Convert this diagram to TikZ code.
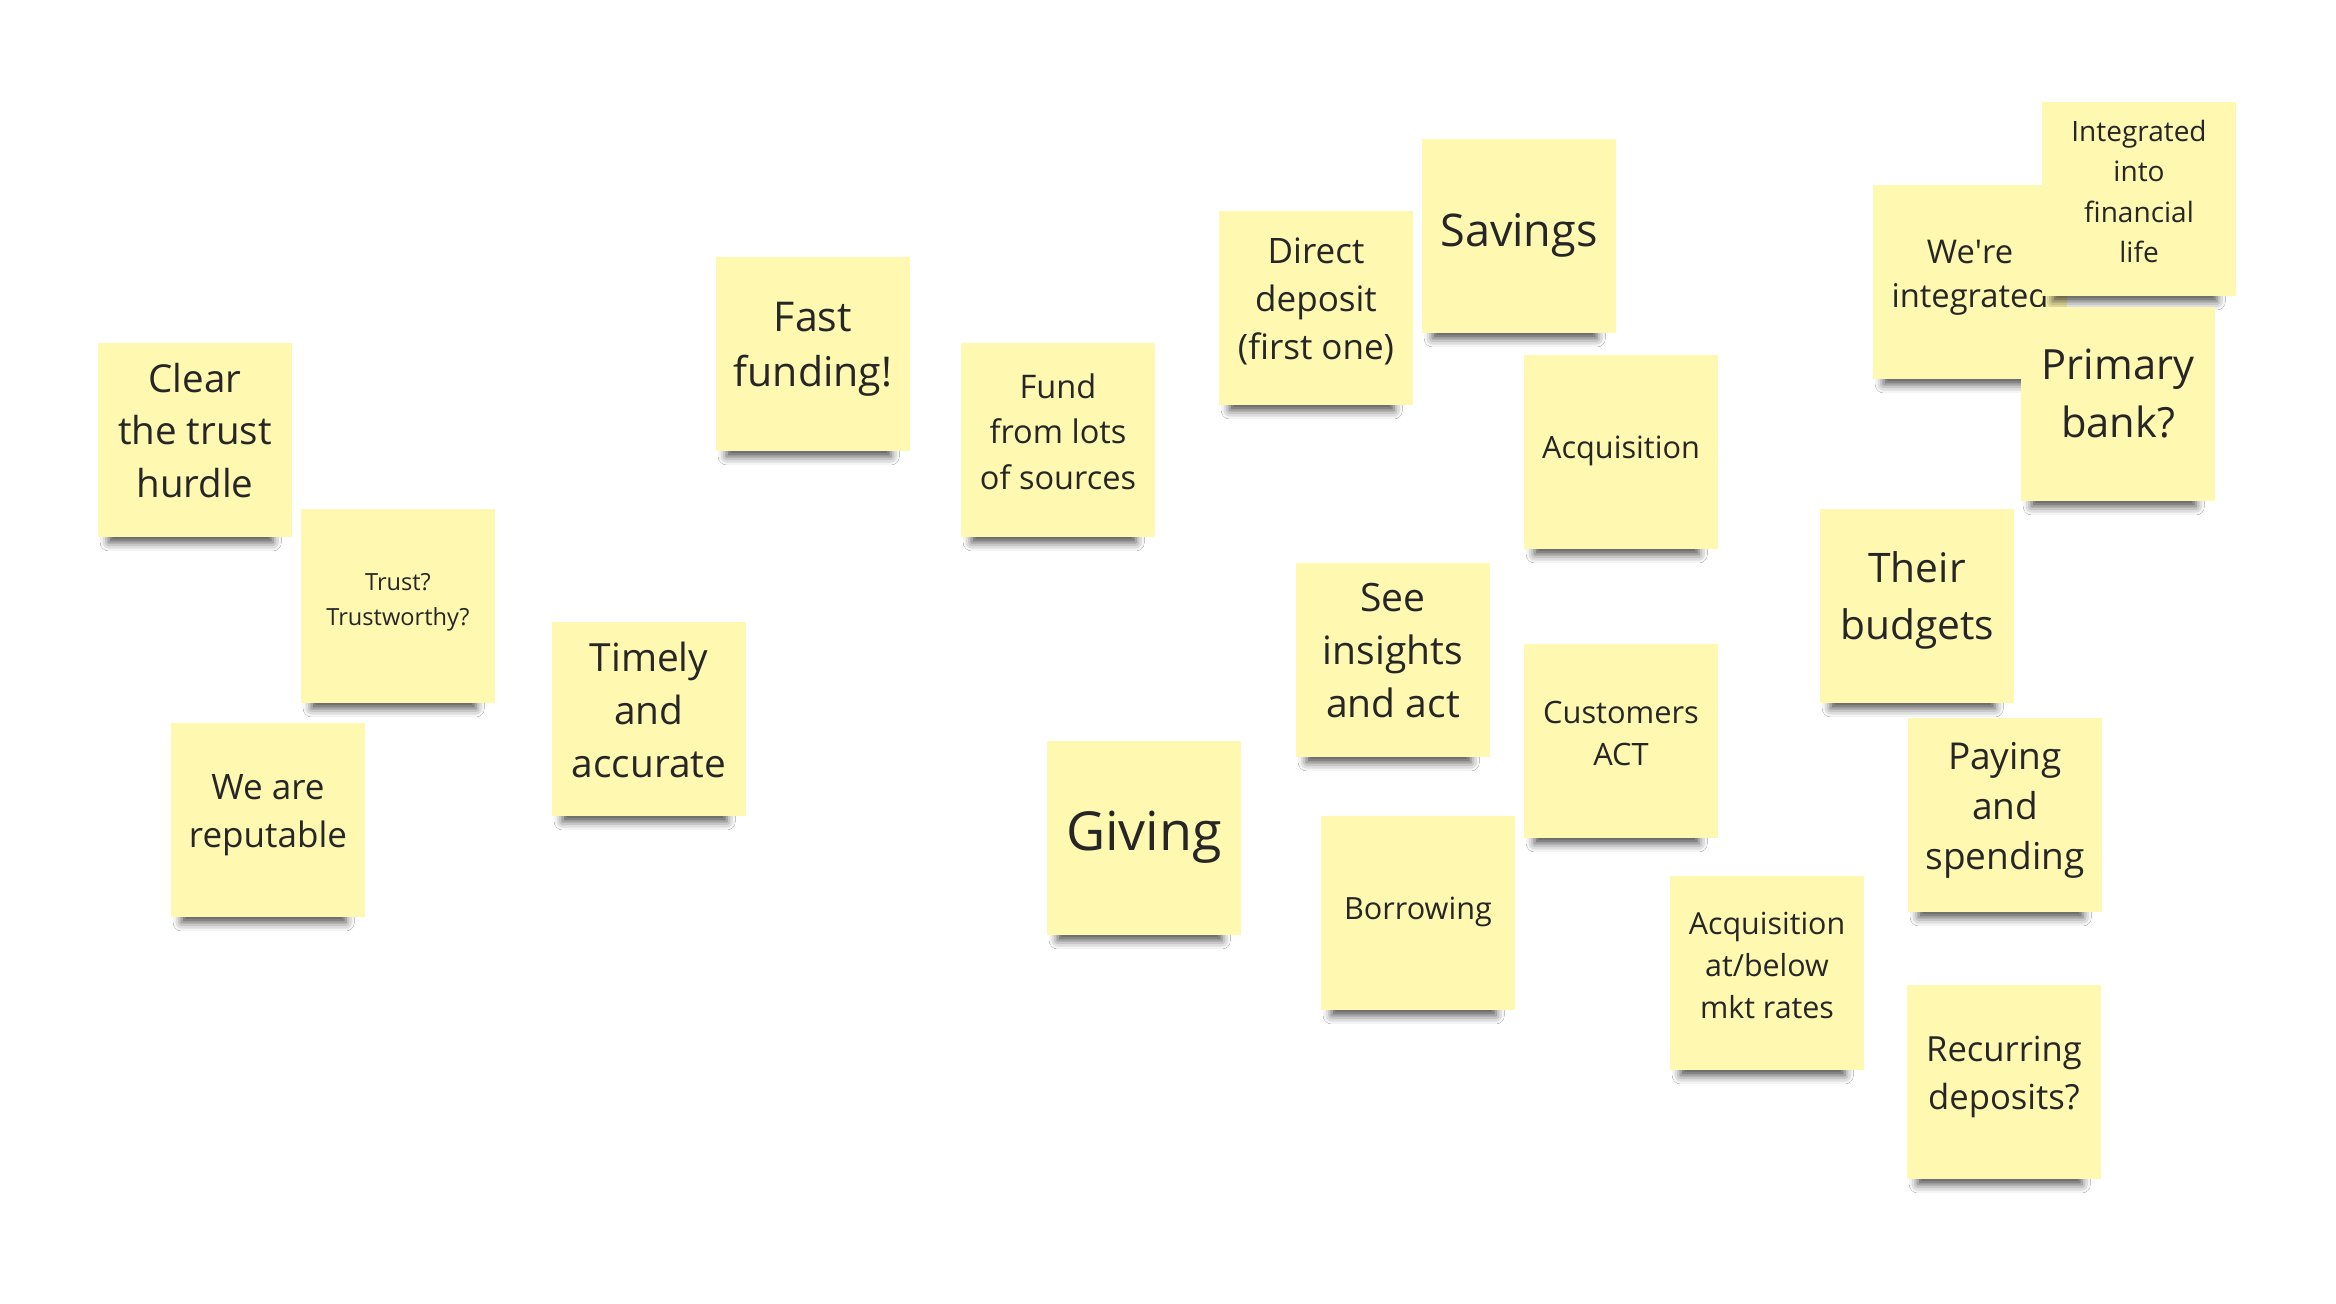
\documentclass[tikz,border=0pt]{standalone}
\usepackage{fontspec}
\setmainfont{Open Sans}
\usetikzlibrary{shadows.blur}
\definecolor{stickyyellow}{HTML}{FFF8B1}
\definecolor{inkgray}{HTML}{262626}

\begin{document}
\begin{tikzpicture}[x=0.01cm, y=-0.01cm,
  note/.style={fill=stickyyellow, minimum size=1.93cm, inner sep=0pt, align=center, text=inkgray,
    execute at begin node=\strut,
    execute at end node={\rule[-\dimexpr0.3\baselineskip+0.035cm\relax]{0pt}{0pt}},
    blur shadow={shadow xshift=-0.05cm, shadow yshift=-0.24cm, shadow scale=0.85,
                 shadow blur radius=0.1cm, shadow opacity=70}},
  fs/.style 2 args={font=\fontsize{#1pt}{#2pt}\selectfont}]

\fill [white] (0,0) rectangle (2336,1304);

% trust column
\node [note, fs={10.95}{14.94}] (clear) at (195,440) {Clear\\the trust\\hurdle};
\node [note, fs={6.71}{9.96}] (trust) at (398,606) {Trust?\\Trustworthy?};
\node [note, fs={9.96}{13.66}] (reputable) at (268,820) {We are\\reputable};
\node [note, fs={11.04}{15.08}] (timely) at (649,719) {Timely\\and\\accurate};

% funding
\node [note, fs={11.67}{15.65}] (fast) at (813,354) {Fast\\funding!};
\node [note, fs={9.25}{13.0}] (lots) at (1058,440) {Fund\\from lots\\of sources};
\node [note, fs={15.3}{20.5}] (giving) at (1144,838) {Giving};

% middle group
\node [note, fs={9.96}{13.66}] (direct) at (1316,308) {Direct\\deposit\\(first one)};
\node [note, fs={12.8}{17.4}] (savings) at (1519,236) {Savings};
\node [note, fs={11.1}{15.08}] (insights) at (1393,660) {See\\insights\\and act};
\node [note, fs={8.73}{11.95}] (acq) at (1621,452) {Acquisition};
\node [note, fs={8.76}{11.95}] (act) at (1621,741) {Customers\\ACT};
\node [note, fs={8.71}{11.95}] (borrow) at (1418,913) {Borrowing};
\node [note, fs={8.65}{11.95}] (rates) at (1767,973) {Acquisition\\at/below\\mkt rates};

% right group
\node [note, fs={9.3}{12.5}] (weint) at (1970,282) {We\textquotesingle re\\integrated};
\node [note, fs={7.97}{11.5}] (finlife) at (2139,199) {Integrated\\into\\financial\\life};
\node [note, fs={11.84}{16.6}] (primary) at (2118,404) {Primary\\bank?};
\node [note, fs={11.58}{16.2}] (budgets) at (1917,606) {Their\\budgets};
\node [note, fs={10.53}{14.23}] (paying) at (2005,815) {Paying\\and\\spending};
\node [note, fs={9.84}{13.66}] (recurring) at (2004,1082) {Recurring\\deposits?};

\end{tikzpicture}
\end{document}
